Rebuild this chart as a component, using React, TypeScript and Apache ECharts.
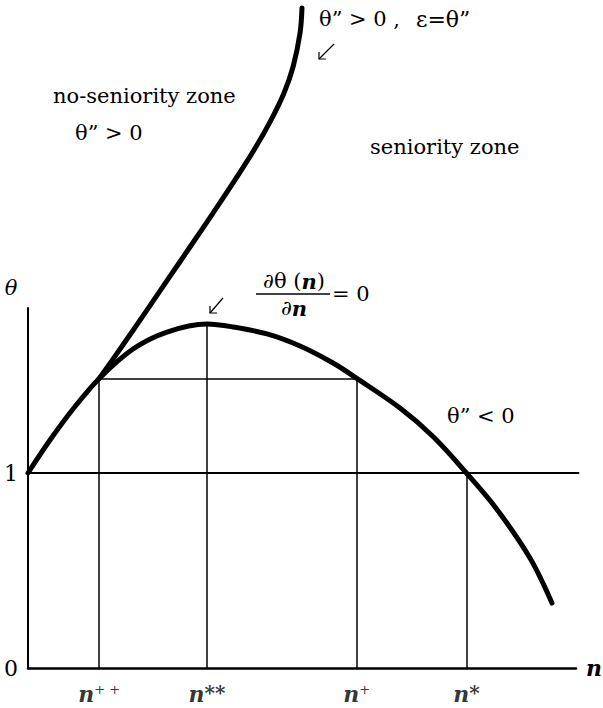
import React, { useEffect, useRef } from "react";
import * as echarts from "echarts";

// hump curve theta(n)
const humpN = [0, 0.201, 0.411, 0.65, 0.958, 1.268, 1.633, 1.87, 2.181, 2.482, 2.783, 3.0, 3.394, 3.7, 4.0, 4.279, 4.58, 4.781];
const humpTheta = [1.0, 1.169, 1.328, 1.485, 1.636, 1.723, 1.764, 1.749, 1.713, 1.651, 1.564, 1.485, 1.333, 1.185, 1.0, 0.813, 0.564, 0.333];

// steep boundary curve (theta'' > 0, eps = theta'')
const steepN = [0.65, 0.853, 1.068, 1.273, 1.478, 1.688, 1.889, 2.062, 2.217, 2.336, 2.418, 2.482, 2.5];
const steepTheta = [1.485, 1.646, 1.821, 1.99, 2.159, 2.333, 2.503, 2.656, 2.81, 2.949, 3.082, 3.256, 3.385];

// key points on the n axis
const keyN = [0.65, 1.633, 3.0, 4.0];
const keyTop = [1.485, 1.764, 1.485, 1.0];
const keyLabels = ["{n|n}{sup|+ +}", "{n|n}{ast|**}", "{n|n}{sup|+}", "{n|n}{ast|*}"];

const levelTheta = 1.485;
const unitTheta = 1;
const unitLineEnd = 5.03;
const yAxisTop = 1.85;
const yTickLabels = ["0", "1"];

const SERIF = "DejaVu Serif";

function txt(x: number, y: number, text: string, size: number, extra: any = {}) {
  return {
    type: "text",
    x,
    y,
    style: {
      text,
      fontFamily: SERIF,
      fontSize: size,
      fill: "#000",
      align: "left",
      verticalAlign: "middle",
      ...extra,
    },
  };
}

function arrow(tx: number, ty: number, hx: number, hy: number) {
  return {
    type: "group",
    children: [
      { type: "line", shape: { x1: tx, y1: ty, x2: hx, y2: hy }, style: { stroke: "#000", lineWidth: 1.2 } },
      { type: "polyline", shape: { points: [[hx, hy - 7], [hx, hy], [hx + 7, hy]] }, style: { stroke: "#000", lineWidth: 1.2, fill: "none" } },
    ],
  };
}

export default function App() {
  const ref = useRef<HTMLDivElement>(null);
  useEffect(() => {
    if (!ref.current) return;
    const chart = echarts.init(ref.current, null, { renderer: "svg" });

    const guideLines: any[] = [];
    keyN.forEach((n, i) => guideLines.push({ coords: [[n, 0], [n, keyTop[i]]] }));
    guideLines.push({ coords: [[keyN[0], levelTheta], [keyN[2], levelTheta]] });

    const richMath = {
      a: { fontFamily: SERIF, fontSize: 21, color: "#000" },
      b: { fontFamily: SERIF, fontStyle: "italic", fontWeight: "bold", fontSize: 21, color: "#000" },
    };

    const option: any = {
      animation: false,
      backgroundColor: "#ffffff",
      textStyle: { fontFamily: SERIF },
      grid: { left: 28, right: 27, top: 5, bottom: 40, containLabel: false, outerBoundsMode: "none" },
      xAxis: {
        type: "value",
        min: 0,
        max: 5,
        axisLine: { show: true, lineStyle: { color: "#000", width: 2.5 } },
        axisTick: { show: false },
        axisLabel: { show: false },
        splitLine: { show: false },
        name: "n",
        nameLocation: "end",
        nameGap: 10,
        nameTextStyle: { fontFamily: SERIF, fontStyle: "italic", fontWeight: "bold", fontSize: 22, color: "#000" },
      },
      yAxis: {
        type: "value",
        min: 0,
        max: 3.4,
        interval: 1,
        axisLine: { show: false },
        axisTick: { show: false },
        splitLine: { show: false },
        axisLabel: {
          show: true,
          margin: 10,
          fontFamily: SERIF,
          fontSize: 22,
          color: "#000",
          formatter: (v: number) => (v === 0 ? yTickLabels[0] : v === 1 ? yTickLabels[1] : ""),
        },
      },
      series: [
        {
          type: "lines",
          coordinateSystem: "cartesian2d",
          silent: true,
          lineStyle: { color: "#000", width: 1.5, opacity: 1 },
          data: guideLines,
          z: 2,
        },
        {
          type: "lines",
          coordinateSystem: "cartesian2d",
          silent: true,
          lineStyle: { color: "#000", width: 2, opacity: 1 },
          data: [
            { coords: [[0, unitTheta], [unitLineEnd, unitTheta]] },
            { coords: [[0, 0], [0, yAxisTop]] },
          ],
          clip: false,
          z: 2,
        },
        {
          type: "line",
          data: humpN.map((n, i) => [n, humpTheta[i]]),
          smooth: 0.35,
          showSymbol: false,
          lineStyle: { color: "#000", width: 5, cap: "round" },
          z: 5,
        },
        {
          type: "line",
          data: steepN.map((n, i) => [n, steepTheta[i]]),
          smooth: 0.35,
          showSymbol: false,
          lineStyle: { color: "#000", width: 5, cap: "round" },
          z: 5,
        },
        {
          type: "scatter",
          symbolSize: 0,
          data: keyN.map((n) => [n, 0]),
          label: {
            show: true,
            position: "bottom",
            distance: 15,
            formatter: (p: any) => keyLabels[p.dataIndex],
            rich: {
              n: { fontFamily: SERIF, fontStyle: "italic", fontWeight: "bold", fontSize: 22, color: "#000", lineHeight: 22, verticalAlign: "bottom" },
              sup: { fontFamily: SERIF, fontSize: 13, color: "#000", lineHeight: 22, verticalAlign: "top" },
              ast: { fontFamily: SERIF, fontWeight: "bold", fontSize: 20, color: "#000", lineHeight: 22, verticalAlign: "top" },
            },
          },
        },
      ],
      graphic: [
        txt(11, 288, "θ", 21, { fontStyle: "italic", align: "center" }),
        txt(53, 96, "no-seniority zone", 21),
        txt(75, 133, "θ” > 0", 21),
        txt(370, 147, "seniority zone", 21),
        txt(319, 19, "θ” > 0 ,", 21),
        txt(416, 19, "ε=θ”", 22),
        arrow(334, 44, 319, 59),
        arrow(223, 298, 210, 313),
        {
          type: "text", x: 294, y: 281,
          style: { text: "{a|∂θ (}{b|n}{a|)}", align: "center", verticalAlign: "middle", rich: richMath },
        },
        { type: "line", shape: { x1: 256, y1: 294, x2: 330, y2: 294 }, style: { stroke: "#000", lineWidth: 1.5 } },
        {
          type: "text", x: 294, y: 308,
          style: { text: "{a|∂}{b|n}", align: "center", verticalAlign: "middle", rich: richMath },
        },
        txt(332, 294, "= 0", 21),
        txt(447, 416, "θ” < 0", 21),
      ],
    };
    chart.setOption(option);
    return () => chart.dispose();
  }, []);
  return <div ref={ref} style={{ position: "absolute", left: 0, top: 0, width: 603, height: 708, background: "#fff" }} />;
}
